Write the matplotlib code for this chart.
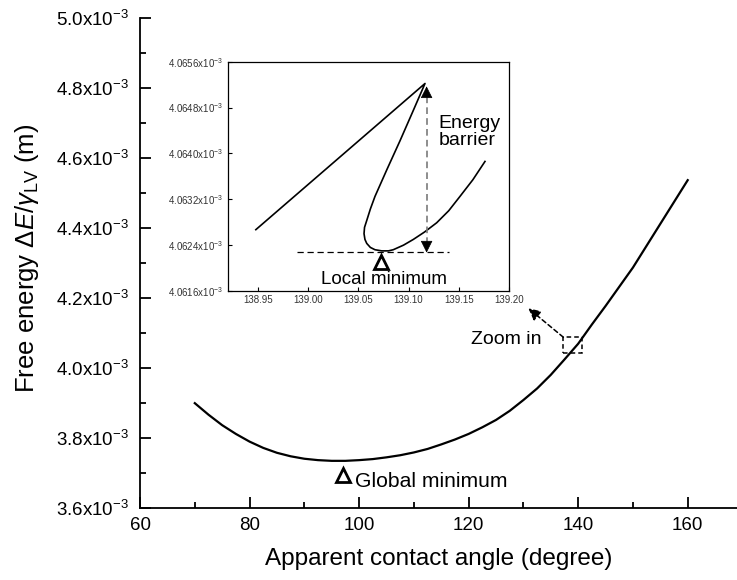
import matplotlib
matplotlib.use("Agg")
import matplotlib.pyplot as plt
from matplotlib.ticker import MultipleLocator, FuncFormatter, FixedLocator
from matplotlib.patches import Rectangle

plt.rcParams['font.family'] = ['Liberation Sans', 'DejaVu Sans']
plt.rcParams['mathtext.fontset'] = 'custom'
plt.rcParams['mathtext.rm'] = 'Liberation Sans'
plt.rcParams['mathtext.it'] = 'Liberation Sans:italic'
plt.rcParams['mathtext.bf'] = 'Liberation Sans:bold'

# Free energy vs apparent contact angle (full range)
angle = [70, 72.5, 75, 77.5, 80, 82.5, 85, 87.5, 90, 92.5, 95, 97.5, 100,
         102.5, 105, 107.5, 110, 112.5, 115, 117.5, 120, 122.5, 125, 127.5,
         130, 132.5, 135, 137.5, 140, 142.5, 145, 147.5, 150, 155, 160]
energy = [3.899e-3, 3.866e-3, 3.836e-3, 3.811e-3, 3.789e-3, 3.771e-3,
          3.757e-3, 3.747e-3, 3.740e-3, 3.736e-3, 3.734e-3, 3.734e-3,
          3.736e-3, 3.739e-3, 3.744e-3, 3.750e-3, 3.758e-3, 3.768e-3,
          3.781e-3, 3.795e-3, 3.811e-3, 3.830e-3, 3.851e-3, 3.877e-3,
          3.908e-3, 3.941e-3, 3.980e-3, 4.024e-3, 4.069e-3, 4.124e-3,
          4.177e-3, 4.232e-3, 4.287e-3, 4.412e-3, 4.537e-3]

# Zoomed region near 139.1 degrees
zoom_angle = [138.948, 139.1164, 139.1040, 139.0915, 139.0785, 139.0666,
              139.0620, 139.0584, 139.0562, 139.0557, 139.0566, 139.0584,
              139.0620, 139.0666, 139.0733, 139.0800, 139.0848, 139.0950,
              139.1048, 139.1160, 139.1280, 139.1400, 139.1512, 139.1640,
              139.1761]
zoom_energy = [4.06267e-3, 4.06522e-3, 4.06472e-3, 4.06422e-3, 4.06372e-3,
               4.06325e-3, 4.06303e-3, 4.06283e-3, 4.06271e-3, 4.06260e-3,
               4.06250e-3, 4.06243e-3, 4.06236e-3, 4.06232e-3, 4.06230e-3,
               4.06230e-3, 4.06232e-3, 4.06240e-3, 4.06250e-3, 4.06263e-3,
               4.06279e-3, 4.06300e-3, 4.06325e-3, 4.06354e-3, 4.06386e-3]

global_min = (97.1, 3.694e-3)
local_min = (139.0726, 4.06210e-3)
barrier_x = 139.118
barrier_top = 4.06517e-3
barrier_bottom = 4.06227e-3
local_level = 4.06228e-3
zoom_box = (137.3, 4.0435e-3, 3.35, 0.044e-3)

main_xticks = [60, 80, 100, 120, 140, 160]
main_yticks = [3.6e-3, 3.8e-3, 4.0e-3, 4.2e-3, 4.4e-3, 4.6e-3, 4.8e-3, 5.0e-3]
inset_xticks = [138.95, 139.00, 139.05, 139.10, 139.15, 139.20]
inset_yticks = [4.0616e-3, 4.0624e-3, 4.0632e-3, 4.0640e-3, 4.0648e-3, 4.0656e-3]

fig = plt.figure(figsize=(7.37, 5.80), dpi=100)
ax = fig.add_axes([0.19, 0.1247, 0.81, 0.8437])

ax.plot(angle, energy, color='black', lw=1.6, solid_joinstyle='round')
ax.set_xlim(60, 169)
ax.set_ylim(3.6e-3, 5.0e-3)
ax.spines['top'].set_visible(False)
ax.spines['right'].set_visible(False)
for s in ('left', 'bottom'):
    ax.spines[s].set_linewidth(1.3)

ax.xaxis.set_major_locator(FixedLocator(main_xticks))
ax.xaxis.set_minor_locator(MultipleLocator(10))
ax.yaxis.set_major_locator(FixedLocator(main_yticks))
ax.yaxis.set_minor_locator(MultipleLocator(0.1e-3))
ax.yaxis.set_major_formatter(FuncFormatter(lambda v, p: f"{v*1e3:.1f}x10$^{{-3}}$"))
ax.tick_params(which='major', direction='in', length=8, width=1.3,
               labelsize=13.5, pad=8)
ax.tick_params(which='minor', direction='in', length=4.5, width=1.3)
ax.tick_params(axis='x', which='major', pad=7)

ax.set_xlabel('Apparent contact angle (degree)', fontsize=17.5, labelpad=10)
ax.set_ylabel(r'Free energy $\mathit{\Delta E}/\mathit{\gamma}_{\mathrm{LV}}$ (m)',
              fontsize=18.5)
ax.yaxis.set_label_coords(-0.166, 0.51)

# Global minimum marker and label
ax.plot(*global_min, marker='^', ms=10, mfc='white', mec='black', mew=2)
ax.text(99.2, 3.660e-3, 'Global minimum', fontsize=15.2, va='baseline', ha='left')

# Zoom box and pointer
bx, by, bw, bh = zoom_box
ax.add_patch(Rectangle((bx, by), bw, bh, fill=False, ls=(0, (3, 2)),
                       lw=1.1, ec='black'))
ax.annotate('', xy=(130.9, 4.1705e-3), xytext=(bx, by + bh),
            arrowprops=dict(arrowstyle='-|>', ls=(0, (3, 2)), lw=1.1,
                            color='black', mutation_scale=18,
                            shrinkA=0, shrinkB=0))
ax.text(133.3, 4.0684e-3, 'Zoom in', fontsize=14, ha='right', va='baseline')

# Inset
ins = fig.add_axes([227.7 / 737, 1 - 291.0 / 580, (509 - 227.7) / 737,
                    (291.0 - 61.7) / 580])
ins.plot(zoom_angle, zoom_energy, color='black', lw=1.2,
         solid_joinstyle='round')
ins.set_xlim(138.92, 139.20)
ins.set_ylim(4.0616e-3, 4.0656e-3)
for s in ins.spines.values():
    s.set_linewidth(0.9)
ins.xaxis.set_major_locator(FixedLocator(inset_xticks))
ins.yaxis.set_major_locator(FixedLocator(inset_yticks))
ins.xaxis.set_major_formatter(FuncFormatter(lambda v, p: f"{v:.2f}"))
ins.yaxis.set_major_formatter(FuncFormatter(lambda v, p: f"{v*1e3:.4f}x10$^{{-3}}$"))
ins.tick_params(direction='in', length=3, width=0.8, labelsize=7,
                labelcolor='#333333', pad=3)

ins.plot([138.989, 139.1406], [local_level, local_level], color='black',
         lw=0.9, ls=(0, (5, 3)))
ins.plot([barrier_x, barrier_x], [barrier_bottom + 0.00015e-3,
                                   barrier_top - 0.00015e-3],
         color='#7a7a7a', lw=1.2, ls=(0, (4, 2.5)))
for tip, tail in ((barrier_top, barrier_top - 0.00018e-3),
                  (barrier_bottom, barrier_bottom + 0.00018e-3)):
    ins.annotate('', xy=(barrier_x, tip), xytext=(barrier_x, tail),
                 arrowprops=dict(arrowstyle='-|>', lw=0.5, color='black',
                                 mutation_scale=19, shrinkA=0, shrinkB=0))
ins.text(139.1296, 4.06467e-3, 'Energy\nbarrier', fontsize=14, ha='left',
         va='top', linespacing=1.0)

ins.plot(*local_min, marker='^', ms=10, mfc='white', mec='black', mew=2,
         clip_on=False)
ins.text(139.076, 4.06172e-3, 'Local minimum', fontsize=13.5, ha='center',
         va='baseline')

fig.savefig('out.png', dpi=100)
